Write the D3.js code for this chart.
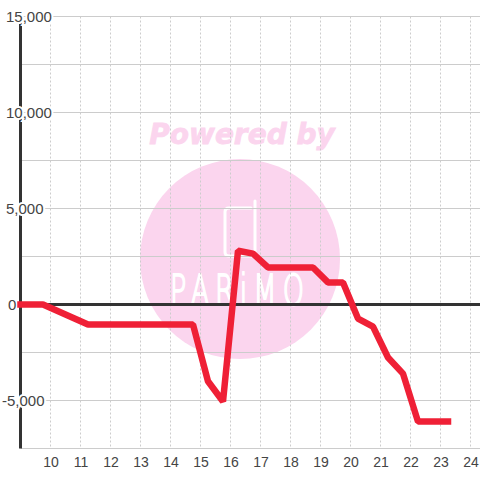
<!DOCTYPE html>
<html>
<head>
<meta charset="utf-8">
<script src="https://cdn.jsdelivr.net/npm/d3@7"></script>
<style>
  html, body { margin: 0; padding: 0; background: #fff; }
  svg { display: block; }
  text { font-family: "Liberation Sans", sans-serif; }
</style>
</head>
<body>
<svg class="chart" width="480" height="480"></svg>
<script>
const hours = [9, 9.75, 11.25, 14.75, 15.25, 15.75, 16.25, 16.75, 17.25, 18.75, 19.25, 19.75, 20.25, 20.75, 21.25, 21.75, 22.25, 23.25]
const balance = [0, 0, -1040, -1040, -4000, -5050, 2800, 2650, 1930, 1930, 1150, 1150, -730, -1150, -2760, -3600, -6100, -6100]
const xTicks = [10, 11, 12, 13, 14, 15, 16, 17, 18, 19, 20, 21, 22, 23, 24]
const yGrid = [15000, 12500, 10000, 7500, 5000, 2500, 0, -2500, -5000, -7500]
const yLabels = [15000, 10000, 5000, 0, -5000]

const x = d3.scaleLinear().domain([9, 24]).range([20.5, 470.5])
const y = d3.scaleLinear().domain([15000, -7500]).range([16.5, 448.5])

const svg = d3.select('.chart')

// watermark sits under the grid
const mark = svg.append('g').attr('class', 'watermark')
mark.append('circle')
  .attr('cx', 240).attr('cy', 259).attr('r', 100)
  .attr('fill', '#fbd5ee')
mark.append('text')
  .attr('x', 242).attr('y', 144)
  .attr('text-anchor', 'middle')
  .attr('fill', '#fbd5ee')
  .attr('stroke', '#fbd5ee')
  .attr('stroke-width', 0.8)
  .style('font-family', '"DejaVu Sans"')
  .style('font-weight', 'bold')
  .style('font-style', 'italic')
  .style('font-size', '28px')
  .text('Powered by')
mark.append('path')
  .attr('d', 'M251 208H229Q225 208 225 212V252Q225 256 229 256H251Q255 256 255 252V201')
  .attr('fill', 'none')
  .attr('stroke', '#fff')
  .attr('stroke-width', 3)
  .attr('stroke-linecap', 'round')
mark.append('text')
  .attr('transform', 'translate(240,305) scale(1,1.6)')
  .attr('text-anchor', 'middle')
  .attr('fill', '#fff')
  .attr('stroke', '#fff')
  .attr('stroke-width', 1.2)
  .style('font-family', '"DejaVu Sans"')
  .style('font-weight', 200)
  .style('font-size', '27px')
  .style('letter-spacing', '6px')
  .text('PARiMO')

// grid
svg.append('g').attr('class', 'grid-y')
  .selectAll('line').data(yGrid.filter(d => d !== 0)).enter().append('line')
  .attr('x1', x(9)).attr('x2', 480)
  .attr('y1', d => y(d)).attr('y2', d => y(d))
  .attr('stroke', '#ccc')
svg.append('g').attr('class', 'grid-x')
  .selectAll('line').data(xTicks).enter().append('line')
  .attr('x1', d => x(d)).attr('x2', d => x(d))
  .attr('y1', y(15000)).attr('y2', y(-7500))
  .attr('stroke', '#ccc')
  .attr('stroke-dasharray', '2,2')

// zero line and left axis
svg.append('line')
  .attr('x1', x(9)).attr('x2', 480)
  .attr('y1', y(0)).attr('y2', y(0))
  .attr('stroke', '#333').attr('stroke-width', 3)
svg.append('line')
  .attr('x1', x(9)).attr('x2', x(9))
  .attr('y1', y(15000)).attr('y2', y(-7500))
  .attr('stroke', '#333').attr('stroke-width', 3)

// labels have a white halo that cuts the axis and grid
const yAxis = svg.append('g').attr('class', 'labels-y')
yAxis.selectAll('text').data(yLabels).enter().append('text')
  .attr('x', d => d < 0 ? 2 : d === 0 ? 8 : 6)
  .attr('y', d => y(d))
  .attr('dy', '0.36em')
  .attr('fill', '#444')
  .attr('stroke', '#fff')
  .attr('stroke-width', 4)
  .attr('paint-order', 'stroke')
  .style('font-size', '15px')
  .text(d => d3.format(',')(d).replace('−', '-'))

const xAxis = svg.append('g').attr('class', 'labels-x')
xAxis.selectAll('text').data(xTicks).enter().append('text')
  .attr('x', d => x(d) + 0.5)
  .attr('y', 466.5)
  .attr('text-anchor', 'middle')
  .attr('fill', '#444')
  .style('font-size', '14px')
  .text(d => d)

// series
const line = d3.line()
  .x(d => x(d[0]))
  .y(d => y(d[1]))

svg.append('path')
  .datum(d3.zip(hours, balance))
  .attr('d', line)
  .attr('fill', 'none')
  .attr('stroke', '#ef2036')
  .attr('stroke-width', 6.5)
  .attr('stroke-linecap', 'square')
  .attr('stroke-linejoin', 'bevel')
</script>
</body>
</html>
